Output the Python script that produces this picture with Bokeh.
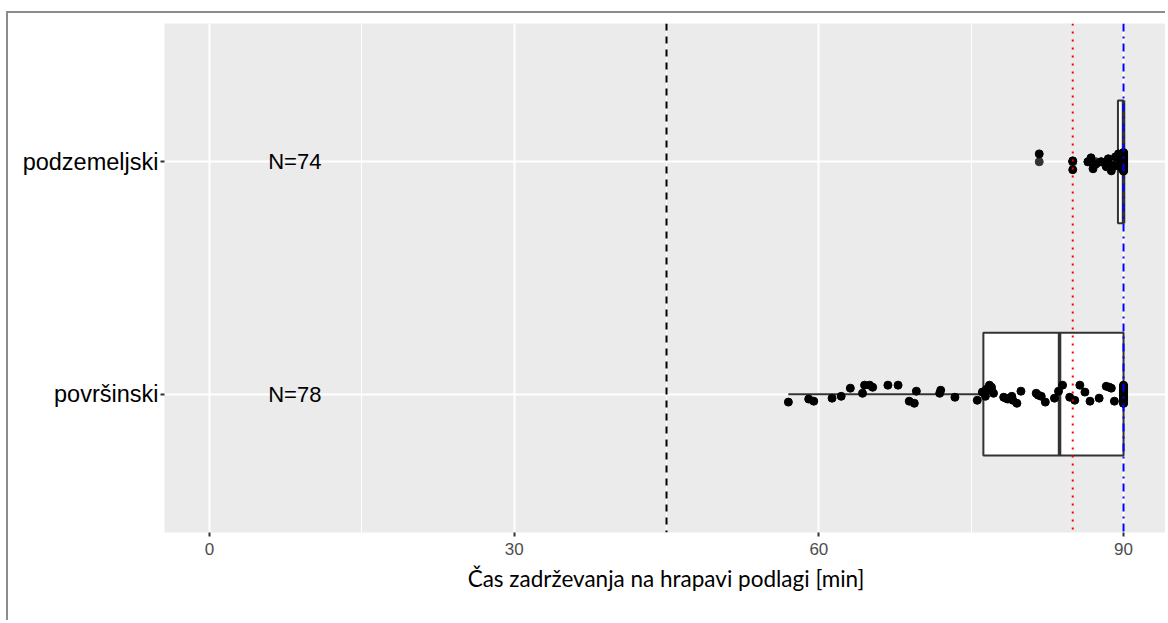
from bokeh.plotting import figure
from bokeh.models import Span, FixedTicker, Range1d
from bokeh.core.properties import value
from bokeh.embed import file_html
from bokeh.resources import INLINE
import numpy as np

# ---------------- data ----------------
groups = ["podzemeljski", "površinski"]
group_pos = [2, 1]

# box statistics
box_q1 = [89.45, 76.2]
box_med = [90.0, 83.7]
box_q3 = [90.0, 90.0]
box_lo = [88.8, 57.0]
box_hi = [90.0, 90.0]

# individual observations (podzemeljski)
pod_time = [81.7, 85.0, 85.0, 86.5, 86.8, 87.0, 87.3, 87.8, 88.3, 88.5,
            88.8, 89.0, 89.2, 89.4, 89.5, 89.6, 89.7, 89.8, 89.9, 90.0,
            90.0, 90.0, 90.0, 90.0, 90.0, 90.0, 90.0, 90.0, 90.0, 90.0,
            90.0, 90.0, 90.0, 90.0, 90.0, 90.0, 90.0, 90.0, 90.0, 90.0,
            90.0, 90.0, 90.0, 90.0, 90.0, 90.0, 90.0, 90.0, 90.0, 90.0,
            90.0, 90.0, 90.0, 90.0, 90.0, 90.0, 90.0, 90.0, 90.0, 90.0,
            90.0, 90.0, 90.0, 90.0, 90.0, 90.0, 90.0, 90.0, 90.0, 90.0,
            90.0, 90.0, 90.0, 90.0]
pod_jitter = [0.034, 0.004, -0.034, 0.000, 0.017, -0.030, -0.009, 0.000, -0.021, 0.013,
              -0.039, -0.017, 0.021, -0.017, 0.034, -0.009, 0.026, -0.026, 0.009, 0.036,
              0.030, 0.021, 0.013, 0.004, -0.004, -0.013, -0.021, -0.030, -0.038, 0.038,
              0.026, 0.017, 0.009, 0.000, -0.009, -0.017, -0.026, -0.034, 0.034, 0.028,
              0.019, 0.011, 0.002, -0.006, -0.015, -0.024, -0.032, -0.040, 0.040, 0.032,
              0.023, 0.015, 0.006, -0.002, -0.011, -0.019, -0.028, -0.036, 0.036, 0.024,
              0.010, -0.005, -0.020, -0.035, 0.029, 0.014, -0.001, -0.016, -0.031, 0.022,
              0.007, -0.008, -0.023, 0.018]

# individual observations (površinski)
pov_time = [57.0, 59.0, 59.5, 61.3, 62.2, 63.1, 64.3, 64.5, 65.0, 65.3,
            66.8, 67.8, 68.9, 69.4, 69.6, 71.9, 72.0, 73.4, 75.6, 76.1,
            76.4, 76.5, 76.8, 77.0, 77.0, 77.2, 78.2, 78.4, 78.6, 79.0,
            79.1, 79.5, 79.9, 81.4, 81.6, 81.9, 82.3, 83.2, 83.6, 84.0,
            84.7, 85.2, 85.7, 86.2, 86.7, 87.6, 88.3, 88.6, 88.8, 89.1,
            90.0, 90.0, 90.0, 90.0, 90.0, 90.0, 90.0, 90.0, 90.0, 90.0,
            90.0, 90.0, 90.0, 90.0, 90.0, 90.0, 90.0, 90.0, 90.0, 90.0,
            90.0, 90.0, 90.0, 90.0, 90.0, 90.0, 90.0, 90.0]
pov_jitter = [-0.034, -0.021, -0.030, -0.017, -0.009, 0.026, 0.004, 0.039, 0.039, 0.030,
              0.039, 0.039, -0.030, -0.039, 0.013, 0.004, 0.017, -0.013, -0.026, 0.009,
              -0.009, 0.021, 0.039, 0.030, 0.017, 0.004, -0.013, -0.017, -0.021, -0.009,
              -0.026, -0.039, 0.013, 0.004, -0.004, -0.009, -0.034, -0.017, 0.013, 0.039,
              -0.013, -0.026, 0.039, 0.009, -0.030, -0.017, 0.034, 0.030, 0.026, -0.030,
              0.034, 0.021, 0.009, -0.004, -0.017, -0.030, -0.039, 0.039, 0.026, 0.013,
              0.000, -0.013, -0.026, -0.034, 0.030, 0.017, 0.004, -0.009, -0.021, 0.034,
              -0.030, 0.021, -0.004, 0.009, -0.017, -0.039, 0.026, 0.000]

ref_lines = [45, 85, 90]
x_ticks = [0, 30, 60, 90]
x_minor = [15, 45, 75]
x_title = "Čas zadrževanja na hrapavi podlagi [min]"

# ---------------- figure ----------------
p = figure(width=1159, height=609, output_backend="svg", toolbar_location=None,
           x_range=Range1d(-4.43, 94.33), y_range=Range1d(0.405, 2.595),
           min_border_left=156, min_border_right=0, min_border_top=10,
           min_border_bottom=90)
p.styles = {"margin-left": "6px", "margin-top": "11px",
            "border-left": "2px solid #8c8c8c", "border-top": "2px solid #8c8c8c"}
p.background_fill_color = "#EBEBEB"
p.border_fill_color = "white"
p.outline_line_color = None

p.xaxis.ticker = FixedTicker(ticks=x_ticks, minor_ticks=x_minor)
p.yaxis.ticker = FixedTicker(ticks=group_pos)
p.yaxis.major_label_overrides = {pos: g for pos, g in zip(group_pos, groups)}

p.xgrid.grid_line_color = "white"
p.xgrid.grid_line_width = 2
p.xgrid.minor_grid_line_color = "white"
p.xgrid.minor_grid_line_width = 1
p.ygrid.grid_line_color = "white"
p.ygrid.grid_line_width = 2

for ax in (p.xaxis[0], p.yaxis[0]):
    ax.axis_line_color = None
    ax.major_tick_line_color = "#333333"
    ax.major_tick_line_width = 2
    ax.major_tick_out = 4
    ax.major_tick_in = 0
    ax.minor_tick_line_color = None
    ax.major_label_text_font = "Liberation Sans"

p.xaxis.major_label_text_color = "#4D4D4D"
p.xaxis.major_label_text_font_size = "17px"
p.xaxis.major_label_standoff = 6
p.yaxis.major_label_text_color = "black"
p.yaxis.major_label_text_font_size = "23.5px"
p.yaxis.major_label_standoff = 2

p.xaxis.axis_label = x_title
p.xaxis.axis_label_text_font = "Lato"
p.xaxis.axis_label_text_font_style = "normal"
p.xaxis.axis_label_text_font_size = "22.5px"
p.xaxis.axis_label_text_color = "black"
p.xaxis.axis_label_standoff = 7

# ---------------- boxplots ----------------
box_h = 0.528
p.segment(x0=box_lo, x1=box_q1, y0=group_pos, y1=group_pos, line_color="#333333", line_width=2)
p.segment(x0=box_q3, x1=box_hi, y0=group_pos, y1=group_pos, line_color="#333333", line_width=2)
p.hbar(y=group_pos, left=box_q1, right=box_q3, height=box_h,
       fill_color="white", line_color="#333333", line_width=2)
p.segment(x0=box_med, x1=box_med,
          y0=[g - box_h / 2 for g in group_pos], y1=[g + box_h / 2 for g in group_pos],
          line_color="#333333", line_width=3.5)

# outliers (grey20), drawn at the group centre
times = [pod_time, pov_time]
jits = [pod_jitter, pov_jitter]
out_x, out_y = [], []
for i, t in enumerate(times):
    for v in t:
        if v < box_lo[i] or v > box_hi[i]:
            out_x.append(v)
            out_y.append(group_pos[i])
p.scatter(x=out_x, y=out_y, size=8, fill_color="#333333", line_color="#333333")

# jittered points
for i, (t, j) in enumerate(zip(times, jits)):
    ys = np.array(j) + group_pos[i]
    p.scatter(x=t, y=ys, size=8, fill_color="black", line_color="black")

# N labels
p.text(x=[8.4, 8.4], y=group_pos, text=[f"N={len(t)}" for t in times],
       text_font=value("Liberation Sans"), text_font_size="22px",
       text_align="center", text_baseline="middle", text_color="black")

# reference lines
styles = [("black", "7 6"), ("red", "2 6"), ("blue", "8 5 2 5")]
for loc, (col, dash) in zip(ref_lines, styles):
    p.add_layout(Span(location=loc, dimension="height", line_color=col,
                      line_dash=dash, line_width=2))

open("out.html", "w").write(file_html(p, INLINE))
